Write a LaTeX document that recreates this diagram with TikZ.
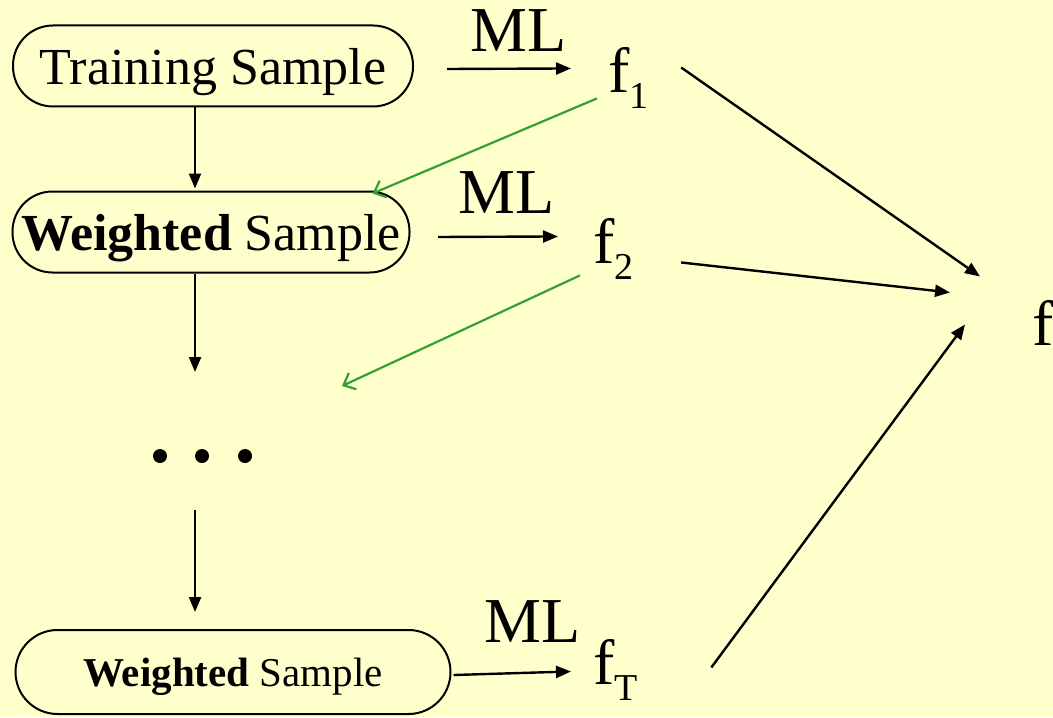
\documentclass[tikz,border=0pt]{standalone}
\usepackage{fontspec}
\setmainfont{Liberation Serif}
\usetikzlibrary{arrows.meta}
\definecolor{slide}{RGB}{255,255,204}
\definecolor{boostgreen}{RGB}{51,160,51}
\newcommand{\fsub}[1]{\raisebox{-0.25em}{\fontsize{19}{19}\selectfont #1}}

\begin{document}
\begin{tikzpicture}[x=0.5pt,y=-0.5pt,
 smp/.style={draw,line width=1pt,rounded corners=20pt,inner sep=0pt,
   text height=23.9pt,text depth=5.2pt,font=\fontsize{26}{26}\selectfont},
 big/.style={inner sep=0pt,anchor=base west,font=\fontsize{32}{32}\selectfont},
 arr/.style={line width=1.2pt,-{Triangle[length=7.5pt,width=6pt]}},
 back/.style={boostgreen,line width=1.1pt,-{Straight Barb[length=5pt,width=9pt]}}]
\useasboundingbox[fill=slide] (0,0) rectangle (1053,717);

% samples
\node[smp,minimum width=200pt,minimum height=40.5pt] (ts) at (213,66) {Training Sample};
\node[smp,minimum width=198.5pt,minimum height=40.5pt] (ws1) at (211,232) {\textbf{Weighted} Sample};
\node[smp,minimum width=217.5pt,minimum height=42pt,rounded corners=21pt,
      text height=18.9pt,text depth=4.1pt,
      font=\fontsize{20.5}{20.5}\selectfont] (ws2) at (233,672) {\textbf{Weighted} Sample};

% learners and classifiers
\node[big] (ml1) at (470,52) {ML};
\node[big] (ml2) at (458,213) {ML};
\node[big] (ml3) at (484,642) {ML};
\node[big] (f1) at (608,93) {f\fsub{1}};
\node[big] (f2) at (593,263) {f\fsub{2}};
\node[big] (fT) at (593,684) {f\fsub{T}};
\node[big] (fin) at (1032,345) {f};

\coordinate (gap1) at (195,372);
\coordinate (gap2) at (195,510);
\coordinate (miss) at (342,386);
\foreach \x in {160,202,245}
  \fill (\x,456) circle (3.5pt);

\path[arr]
([shift={(-18,0)}]ts.south) edge ([shift={(-16,-2)}]ws1.north)
([shift={(-16,0)}]ws1.south) edge (gap1)
(gap2) edge ([shift={(-38,-17)}]ws2.north)
([shift={(33,3)}]ts.east) edge ([shift={(-37,-10)}]f1.west)
([shift={(27.5,5)}]ws1.east) edge ([shift={(-35,-12)}]f2.west)
([shift={(2,3)}]ws2.east) edge ([shift={(-22,2)}]fT.west)
([shift={(32,-11)}]f1.east) edge ([shift={(-52,-46)}]fin.west)
([shift={(47,14)}]f2.east) edge ([shift={(-82,-30)}]fin.west)
([shift={(73,-2)}]fT.east) edge ([shift={(-67,2)}]fin.west);

\path[back]
([shift={(-11,-11)}]f1.south west) edge ([shift={(-38,3)}]ws1.north east)
([shift={(-13,-4)}]f2.south west) edge (miss);
\end{tikzpicture}
\end{document}
